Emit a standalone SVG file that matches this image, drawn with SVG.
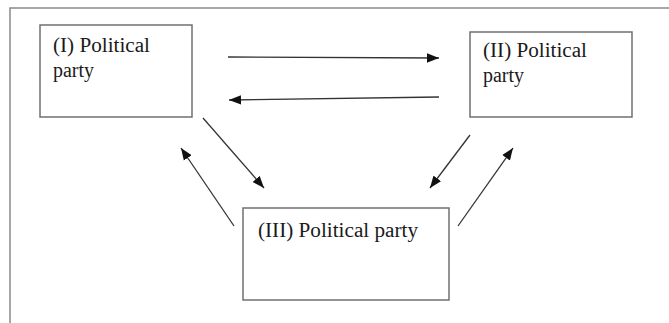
<svg xmlns="http://www.w3.org/2000/svg" width="669" height="323" viewBox="0 0 669 323">
<style>
.frame{fill:none;stroke:#8a8a8a;stroke-width:1.5}
.box{fill:#fff;stroke:#707070;stroke-width:1.5}
.lbl{font-family:"Liberation Serif","Times New Roman",serif;font-size:20px;fill:#1a1a1a}
.conn{stroke:#333;stroke-width:1.3;fill:none;marker-end:url(#ah)}
</style>
<defs>
<marker id="ah" viewBox="0 0 12 10" refX="12" refY="5" markerWidth="12" markerHeight="10" markerUnits="userSpaceOnUse" orient="auto">
<path d="M0,0.3 L12,5 L0,9.7 Z" fill="#111"/>
</marker>
</defs>
<rect width="669" height="323" fill="#fff"/>
<path class="frame" d="M10,323 L10,8 L669,8"/>
<g id="party1">
<rect class="box" x="40" y="25" width="152" height="92"/>
<text class="lbl" x="53" y="52" textLength="97" lengthAdjust="spacingAndGlyphs">(I) Political</text>
<text class="lbl" x="53" y="77" textLength="41" lengthAdjust="spacingAndGlyphs">party</text>
</g>
<g id="party2">
<rect class="box" x="470" y="32" width="162" height="85"/>
<text class="lbl" x="483" y="57" textLength="104" lengthAdjust="spacingAndGlyphs">(II) Political</text>
<text class="lbl" x="483" y="82" textLength="41" lengthAdjust="spacingAndGlyphs">party</text>
</g>
<g id="party3">
<rect class="box" x="243" y="208" width="206" height="92"/>
<text class="lbl" x="258" y="237" textLength="160" lengthAdjust="spacingAndGlyphs">(III) Political party</text>
</g>
<g id="connectors">
<line class="conn" x1="228" y1="57" x2="439" y2="58"/>
<line class="conn" x1="439" y1="97" x2="229" y2="100"/>
<line class="conn" x1="203" y1="118" x2="264" y2="188"/>
<line class="conn" x1="234" y1="226" x2="181" y2="148"/>
<line class="conn" x1="470" y1="135" x2="430" y2="188"/>
<line class="conn" x1="458" y1="226" x2="513" y2="148"/>
</g>
</svg>
